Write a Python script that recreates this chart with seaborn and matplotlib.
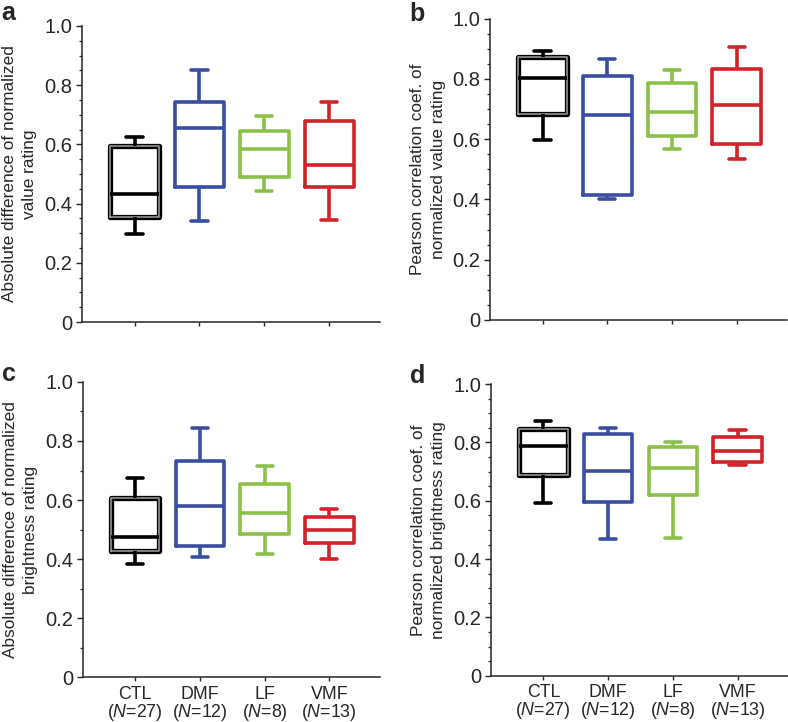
import pandas as pd
import matplotlib
import matplotlib.pyplot as plt
import matplotlib.patheffects as pe
from matplotlib.colors import to_hex
from matplotlib.ticker import MultipleLocator, FuncFormatter
import seaborn as sns

# -----------------------------
# Data: five-number summaries
# (low whisker, Q1, median, Q3, high whisker)
# -----------------------------
groups = ["CTL", "DMF", "LF", "VMF"]
group_n = [27, 12, 8, 13]

value_absdiff = {
    "CTL": [0.299, 0.355, 0.432, 0.595, 0.626],
    "DMF": [0.340, 0.457, 0.654, 0.742, 0.851],
    "LF":  [0.442, 0.490, 0.584, 0.645, 0.696],
    "VMF": [0.343, 0.457, 0.532, 0.679, 0.742],
}
value_corr = {
    "CTL": [0.599, 0.684, 0.804, 0.874, 0.892],
    "DMF": [0.401, 0.416, 0.682, 0.809, 0.865],
    "LF":  [0.569, 0.612, 0.692, 0.788, 0.831],
    "VMF": [0.534, 0.584, 0.715, 0.834, 0.906],
}
bright_absdiff = {
    "CTL": [0.385, 0.428, 0.475, 0.606, 0.675],
    "DMF": [0.407, 0.445, 0.581, 0.731, 0.845],
    "LF":  [0.418, 0.485, 0.555, 0.656, 0.716],
    "VMF": [0.400, 0.456, 0.498, 0.544, 0.571],
}
bright_corr = {
    "CTL": [0.593, 0.687, 0.788, 0.845, 0.873],
    "DMF": [0.469, 0.595, 0.703, 0.828, 0.849],
    "LF":  [0.472, 0.619, 0.713, 0.785, 0.800],
    "VMF": [0.722, 0.734, 0.772, 0.817, 0.844],
}

ylabels = [
    "Absolute difference of normalized\nvalue rating",
    "Pearson correlation coef. of\nnormalized value rating",
    "Absolute difference of normalized\nbrightness rating",
    "Pearson correlation coef. of\nnormalized brightness rating",
]
letters = ["a", "b", "c", "d"]
palette = {"CTL": "#000000", "DMF": "#3a4ea1", "LF": "#8cc04b", "VMF": "#d1232a"}

# -----------------------------
# Style
# -----------------------------
sns.set_style("ticks")
plt.rcParams["font.family"] = ["Liberation Sans", "DejaVu Sans"]
plt.rcParams["mathtext.fontset"] = "custom"
plt.rcParams["mathtext.rm"] = "Liberation Sans"
plt.rcParams["mathtext.it"] = "Liberation Sans:italic"
plt.rcParams["axes.linewidth"] = 1.1


def to_long(summary):
    rows = []
    for g in groups:
        for v in summary[g]:
            rows.append({"group": g, "value": v})
    return pd.DataFrame(rows)


fig = plt.figure(figsize=(7.88, 7.22), dpi=100)

# axes rectangles in figure fractions (left, bottom, width, height)
rects = [
    (0.104, 0.554, 0.378, 0.410),
    (0.622, 0.557, 0.377, 0.417),
    (0.105, 0.062, 0.377, 0.409),
    (0.623, 0.064, 0.377, 0.404),
]
datasets = [value_absdiff, value_corr, bright_absdiff, bright_corr]
minor_steps = [0.05, 0.05, 0.1, 0.05]
letter_pos = [(0.002, 0.972), (0.520, 0.971), (0.002, 0.472), (0.520, 0.470)]

xticklabels = [f"{g}\n($\\it{{N}}$={n})" for g, n in zip(groups, group_n)]

for i in range(4):
    ax = fig.add_axes(rects[i])
    df = to_long(datasets[i])
    sns.boxplot(
        data=df, x="group", y="value", hue="group",
        order=groups, hue_order=groups, palette=palette,
        fill=False, whis=(0, 100), width=0.75, linewidth=2.6,
        capwidths=0.25, legend=False, ax=ax,
    )

    # CTL box drawn as a double outline
    for ln in ax.lines:
        if to_hex(ln.get_color()) == "#000000" and len(ln.get_xdata()) == 5:
            ln.set_color("#a0a0a0")
            ln.set_linewidth(1.1)
            ln.set_path_effects([pe.withStroke(linewidth=3.8, foreground="black")])

    ax.set_xlim(-0.81, 3.78)
    ax.set_ylim(0, 1.0)
    ax.yaxis.set_major_locator(MultipleLocator(0.2))
    ax.yaxis.set_minor_locator(MultipleLocator(minor_steps[i]))
    ax.yaxis.set_major_formatter(FuncFormatter(lambda v, p: "0" if abs(v) < 1e-9 else f"{v:.1f}"))
    ax.tick_params(axis="y", which="major", length=4, width=1, labelsize=14.5, pad=3)
    ax.tick_params(axis="y", which="minor", length=2.5, width=0.9)
    ax.tick_params(axis="x", length=3, width=1, labelsize=12.8, pad=3)
    sns.despine(ax=ax)

    ax.set_xlabel("")
    ax.set_ylabel(ylabels[i], fontsize=12.4, linespacing=1.45)
    ax.yaxis.set_label_coords(-0.15, 0.5)

    ax.set_xticks(range(len(groups)))
    if i >= 2:
        ax.set_xticklabels(xticklabels, linespacing=0.95)
    else:
        ax.set_xticklabels([])

    fig.text(letter_pos[i][0], letter_pos[i][1], letters[i],
             fontsize=18, fontweight="bold", va="baseline")

plt.savefig("out.png", dpi=100)
